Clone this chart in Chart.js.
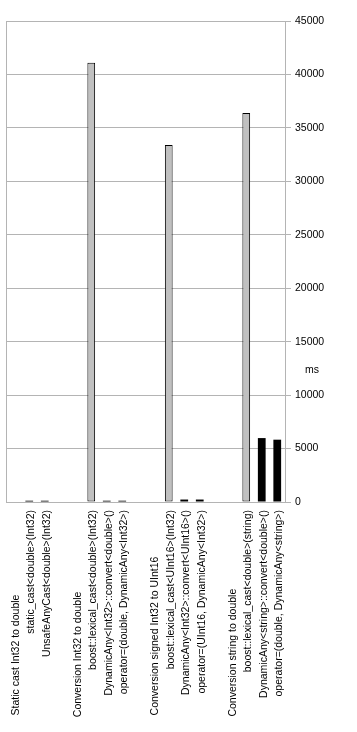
<!DOCTYPE html>
<html>
<head>
<meta charset="utf-8">
<script src="https://cdn.jsdelivr.net/npm/chart.js@4/dist/chart.umd.min.js"></script>
<style>
  html, body { margin: 0; padding: 0; background: #fff; }
  #wrap { width: 357px; height: 732px; position: relative; }
</style>
</head>
<body>
<div id="wrap"><canvas id="c"></canvas></div>
<script>
// Group headings shown on the category axis
const groups = [
  'Static cast Int32 to double',
  'Conversion Int32 to double',
  'Conversion signed Int32 to UInt16',
  'Conversion string to double'
];

// Category axis labels ('' leaves an empty slot between groups)
const categories = [
  'Static cast Int32 to double',
  'static_cast<double>(Int32)',
  'UnsafeAnyCast<double>(Int32)',
  '',
  'Conversion Int32 to double',
  'boost::lexical_cast<double>(Int32)',
  'DynamicAny<Int32>::convert<double>()',
  'operator=(double, DynamicAny<Int32>)',
  '',
  'Conversion signed Int32 to UInt16',
  'boost::lexical_cast<UInt16>(Int32)',
  'DynamicAny<Int32>::convert<UInt16>()',
  'operator=(UInt16, DynamicAny<Int32>)',
  '',
  'Conversion string to double',
  'boost::lexical_cast<double>(string)',
  'DynamicAny<string>::convert<double>()',
  'operator=(double, DynamicAny<string>)'
];

// Timings in ms: boost::lexical_cast runs
const lexicalCastMs = [null, null, null, null, null, 41100, null, null, null, null, 33400, null, null, null, null, 36400, null, null];

// Timings in ms: casts and DynamicAny runs
const otherMs = [null, 120, 120, null, null, null, 120, 120, null, null, null, 230, 230, null, null, null, 5980, 5830];

// Value axis ticks
const yTicks = [0, 5000, 10000, 15000, 20000, 25000, 30000, 35000, 40000, 45000];

const FONT_FAMILY = '"Liberation Sans", Arial, sans-serif';
const FONT_SIZE = 10.5;
const FONT = { family: FONT_FAMILY, size: FONT_SIZE };
const GRID = '#b4b4b4';

// Group headings read from the foot of the axis: pad them so they all start
// at the same distance from the axis line.
const HEADER_SPAN = 206;
const measureCtx = document.createElement('canvas').getContext('2d');
measureCtx.font = FONT_SIZE + 'px ' + FONT_FAMILY;
const NBSP = '\u00A0';
const nbspWidth = measureCtx.measureText(NBSP).width;
function padHeader(text) {
  const w = measureCtx.measureText(text).width;
  const n = Math.max(0, Math.round((HEADER_SPAN - w) / nbspWidth));
  return text + NBSP.repeat(n);
}

// Unit caption beside the value axis
const unitLabel = {
  id: 'unitLabel',
  afterDraw(chart) {
    const { ctx, chartArea } = chart;
    ctx.save();
    ctx.font = FONT_SIZE + 'px ' + FONT_FAMILY;
    ctx.fillStyle = '#000';
    ctx.textAlign = 'left';
    ctx.textBaseline = 'middle';
    ctx.fillText('ms', chartArea.right + 20, chartArea.top + (chartArea.bottom - chartArea.top) * 0.725);
    ctx.restore();
  }
};

new Chart(document.getElementById('c'), {
  type: 'bar',
  data: {
    labels: categories,
    datasets: [
      {
        label: 'boost::lexical_cast',
        data: lexicalCastMs,
        backgroundColor: '#c0c0c0',
        borderColor: '#000',
        borderWidth: 1,
        borderSkipped: false
      },
      {
        label: 'cast / DynamicAny',
        data: otherMs,
        backgroundColor: '#000',
        borderWidth: 0
      }
    ]
  },
  options: {
    responsive: true,
    maintainAspectRatio: false,
    animation: false,
    layout: { padding: { top: 21, left: 6, right: 0, bottom: 0 } },
    datasets: {
      bar: { grouped: false, categoryPercentage: 1, barPercentage: 0.5 }
    },
    plugins: {
      legend: { display: false },
      tooltip: { enabled: false }
    },
    scales: {
      x: {
        afterFit(s) { s.height = 230; },
        grid: {
          drawTicks: false,
          color: (ctx) => (ctx.index === 0 ? GRID : 'rgba(0,0,0,0)'),
          lineWidth: 1
        },
        border: { display: false },
        ticks: {
          autoSkip: false,
          minRotation: 90,
          maxRotation: 90,
          padding: 8,
          labelOffset: 2,
          color: '#000',
          font: FONT,
          callback(value) {
            const lbl = categories[value];
            return groups.includes(lbl) ? padHeader(lbl) : lbl;
          }
        }
      },
      y: {
        position: 'right',
        min: 0,
        max: 45000,
        afterFit(s) { s.width = 72; },
        afterBuildTicks(s) { s.ticks = yTicks.map(v => ({ value: v })); },
        grid: { color: GRID, tickLength: 6, lineWidth: 1 },
        border: { color: GRID },
        ticks: {
          padding: 4,
          color: '#000',
          font: FONT,
          callback: (v) => String(v)
        }
      }
    }
  },
  plugins: [unitLabel]
});
</script>
</body>
</html>
